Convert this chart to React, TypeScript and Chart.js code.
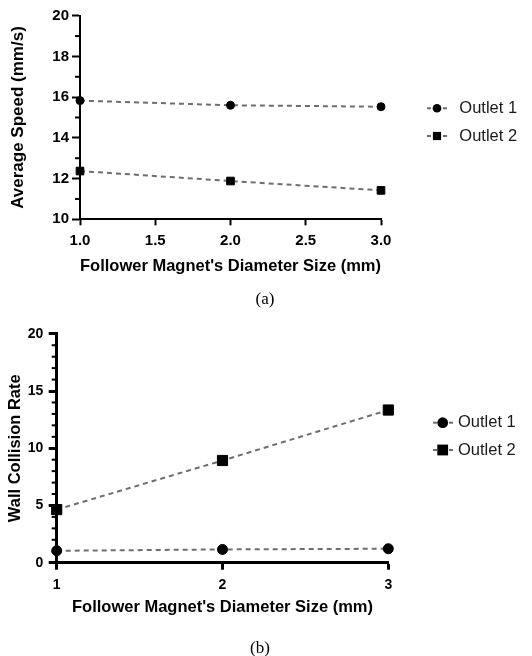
import React, { useEffect, useRef } from "react";
import { Chart, registerables } from "chart.js";

Chart.register(...registerables);

// ---------- data ----------
const diameterMm = [1, 2, 3];
const seriesLabels = ["Outlet 1", "Outlet 2"];

const speedOutlet1 = [15.83, 15.6, 15.53];
const speedOutlet2 = [12.37, 11.88, 11.42];

const collisionOutlet1 = [1.04, 1.16, 1.22];
const collisionOutlet2 = [4.64, 8.93, 13.34];

const speedXTicks = [1.0, 1.5, 2.0, 2.5, 3.0];
const speedYTicks = [10, 12, 14, 16, 18, 20];
const speedYMinor = [11, 13, 15, 17, 19];

const collisionXTicks = [1, 2, 3];
const collisionYTicks = [0, 5, 10, 15, 20];
const collisionYMinor = [1, 2, 3, 4, 6, 7, 8, 9, 11, 12, 13, 14, 16, 17, 18, 19];

const SANS = '"Liberation Sans", Arial, Helvetica, sans-serif';
const SERIF = '"Liberation Serif", "Times New Roman", Times, serif';

// ---------- plugins ----------
const minorTicksPlugin = {
  id: "minorTicks",
  afterDraw(chart: any, _args: any, o: any) {
    const s = chart.scales.y;
    const ctx = chart.ctx;
    ctx.save();
    ctx.strokeStyle = "#000";
    ctx.lineWidth = o.width;
    for (const v of o.values) {
      const y = s.getPixelForValue(v);
      ctx.beginPath();
      ctx.moveTo(chart.chartArea.left, y);
      ctx.lineTo(chart.chartArea.left - o.length, y);
      ctx.stroke();
    }
    ctx.restore();
  },
};

const sideLegendPlugin = {
  id: "sideLegend",
  afterDraw(chart: any, _args: any, o: any) {
    const ctx = chart.ctx;
    chart.data.datasets.forEach((ds: any, i: number) => {
      const y = o.rows[i];
      ctx.save();
      ctx.strokeStyle = ds.borderColor;
      ctx.lineWidth = ds.borderWidth;
      ctx.setLineDash(o.dash);
      ctx.beginPath();
      ctx.moveTo(o.lineStart, y);
      ctx.lineTo(o.lineEnd, y);
      ctx.stroke();
      ctx.setLineDash([]);
      ctx.fillStyle = "#000";
      if (ds.pointStyle === "rect") {
        const h = o.rectHalf;
        ctx.fillRect(o.markerX - h, y - h, 2 * h, 2 * h);
      } else {
        ctx.beginPath();
        ctx.arc(o.markerX, y, o.circleR, 0, Math.PI * 2);
        ctx.fill();
      }
      ctx.font = o.font;
      ctx.textAlign = "left";
      ctx.textBaseline = "middle";
      ctx.fillStyle = o.color;
      ctx.fillText(ds.label, o.textX, y);
      ctx.restore();
    });
  },
};

function makeDataset(label: string, ys: number[], style: string, r: number) {
  return {
    label,
    data: diameterMm.map((x, i) => ({ x, y: ys[i] })),
    borderColor: "#6e6e6e",
    borderWidth: 2,
    borderDash: [5, 4],
    pointStyle: style,
    pointRadius: r,
    pointBackgroundColor: "#000",
    pointBorderColor: "#000",
    pointBorderWidth: 1,
    fill: false,
    tension: 0,
    clip: false,
  };
}

function buildSpeedConfig(): any {
  return {
    type: "line",
    data: {
      datasets: [
        makeDataset(seriesLabels[0], speedOutlet1, "circle", 4),
        makeDataset(seriesLabels[1], speedOutlet2, "rect", 5.4),
      ],
    },
    plugins: [minorTicksPlugin, sideLegendPlugin],
    options: {
      responsive: true,
      maintainAspectRatio: false,
      animation: false,
      events: [],
      layout: { padding: { left: 0, top: 15.7, right: 151, bottom: 0 } },
      plugins: {
        legend: { display: false },
        tooltip: { enabled: false },
        minorTicks: { values: speedYMinor, length: 5, width: 2 },
        sideLegend: {
          rows: [108.3, 136],
          lineStart: 427,
          lineEnd: 447,
          markerX: 437,
          textX: 459.3,
          dash: [4, 4],
          circleR: 4.3,
          rectHalf: 4.1,
          font: `16.5px ${SANS}`,
          color: "#1a1a1a",
        },
      },
      scales: {
        x: {
          type: "linear",
          min: 1,
          max: 3,
          afterBuildTicks: (s: any) => {
            s.ticks = speedXTicks.map((v) => ({ value: v }));
          },
          afterFit: (s: any) => {
            s.height = 70.7;
          },
          ticks: {
            callback: (v: any) => Number(v).toFixed(1),
            font: { family: SANS, size: 15, weight: "bold" },
            color: "#000",
            padding: 6.7,
            maxRotation: 0,
            autoSkip: false,
          },
          grid: {
            display: true,
            drawOnChartArea: false,
            drawTicks: true,
            tickLength: 6,
            tickWidth: 2,
            tickColor: "#000",
          },
          border: { display: true, color: "#000", width: 2 },
          title: {
            display: true,
            text: "Follower Magnet's Diameter Size (mm)",
            font: { family: SANS, size: 17, weight: "bold" },
            color: "#000",
            padding: { top: 0, bottom: 13.5 },
          },
        },
        y: {
          type: "linear",
          min: 10,
          max: 20,
          afterBuildTicks: (s: any) => {
            s.ticks = speedYTicks.map((v) => ({ value: v }));
          },
          afterFit: (s: any) => {
            s.width = 80;
          },
          ticks: {
            font: { family: SANS, size: 15, weight: "bold" },
            color: "#000",
            padding: 3,
            autoSkip: false,
          },
          grid: {
            display: true,
            drawOnChartArea: false,
            drawTicks: true,
            tickLength: 8,
            tickWidth: 2,
            tickColor: "#000",
          },
          border: { display: true, color: "#000", width: 2 },
          title: {
            display: true,
            text: "Average Speed (mm/s)",
            font: { family: SANS, size: 17, weight: "bold" },
            color: "#000",
            padding: { top: 8.1, bottom: 0 },
          },
        },
      },
    },
  };
}

function buildCollisionConfig(): any {
  return {
    type: "line",
    data: {
      datasets: [
        makeDataset(seriesLabels[0], collisionOutlet1, "circle", 5),
        makeDataset(seriesLabels[1], collisionOutlet2, "rect", 7.2),
      ],
    },
    plugins: [minorTicksPlugin, sideLegendPlugin],
    options: {
      responsive: true,
      maintainAspectRatio: false,
      animation: false,
      events: [],
      layout: { padding: { left: 0, top: 12.7, right: 143.7, bottom: 0 } },
      plugins: {
        legend: { display: false },
        tooltip: { enabled: false },
        minorTicks: { values: collisionYMinor, length: 5, width: 2 },
        sideLegend: {
          rows: [102.7, 130],
          lineStart: 433,
          lineEnd: 453,
          markerX: 442.7,
          textX: 458,
          dash: [4, 4],
          circleR: 5.4,
          rectHalf: 5.4,
          font: `16.5px ${SANS}`,
          color: "#1a1a1a",
        },
      },
      scales: {
        x: {
          type: "linear",
          min: 1,
          max: 3,
          afterBuildTicks: (s: any) => {
            s.ticks = collisionXTicks.map((v) => ({ value: v }));
          },
          afterFit: (s: any) => {
            s.height = 57.3;
          },
          ticks: {
            font: { family: SANS, size: 14, weight: "bold" },
            color: "#000",
            padding: 6.8,
            maxRotation: 0,
            autoSkip: false,
          },
          grid: {
            display: true,
            drawOnChartArea: false,
            drawTicks: true,
            tickLength: 7,
            tickWidth: 3,
            tickColor: "#000",
          },
          border: { display: true, color: "#000", width: 3 },
          title: {
            display: true,
            text: "Follower Magnet's Diameter Size (mm)",
            font: { family: SANS, size: 16.5, weight: "bold" },
            color: "#000",
            padding: { top: 0, bottom: 2.2 },
          },
        },
        y: {
          type: "linear",
          min: 0,
          max: 20,
          afterBuildTicks: (s: any) => {
            s.ticks = collisionYTicks.map((v) => ({ value: v }));
          },
          afterFit: (s: any) => {
            s.width = 56.7;
          },
          ticks: {
            font: { family: SANS, size: 14, weight: "bold" },
            color: "#000",
            padding: 5.4,
            autoSkip: false,
          },
          grid: {
            display: true,
            drawOnChartArea: false,
            drawTicks: true,
            tickLength: 8,
            tickWidth: 3,
            tickColor: "#000",
          },
          border: { display: true, color: "#000", width: 3 },
          title: {
            display: true,
            text: "Wall Collision Rate",
            font: { family: SANS, size: 16.5, weight: "bold" },
            color: "#000",
            padding: { top: 5.1, bottom: 0 },
          },
        },
      },
    },
  };
}

function ChartPanel(props: { build: () => any; top: number; height: number }) {
  const ref = useRef<HTMLCanvasElement | null>(null);
  useEffect(() => {
    if (!ref.current) return;
    const chart = new Chart(ref.current, props.build());
    return () => chart.destroy();
  }, []);
  return (
    <div
      style={{
        position: "absolute",
        left: 0,
        top: props.top,
        width: 532,
        height: props.height,
      }}
    >
      <canvas ref={ref} />
    </div>
  );
}

function Caption(props: { text: string; x: number; y: number }) {
  return (
    <div
      style={{
        position: "absolute",
        left: props.x,
        top: props.y,
        transform: "translate(-50%, -50%)",
        fontFamily: SERIF,
        fontSize: 17,
        color: "#000",
        whiteSpace: "nowrap",
        lineHeight: 1,
      }}
    >
      {props.text}
    </div>
  );
}

export default function App() {
  return (
    <div
      style={{
        position: "absolute",
        left: 0,
        top: 0,
        width: 532,
        height: 656,
        background: "#fff",
        overflow: "hidden",
      }}
    >
      <ChartPanel build={buildSpeedConfig} top={0} height={290} />
      <Caption text="(a)" x={265} y={297.7} />
      <ChartPanel build={buildCollisionConfig} top={320} height={300} />
      <Caption text="(b)" x={260} y={646.7} />
    </div>
  );
}
